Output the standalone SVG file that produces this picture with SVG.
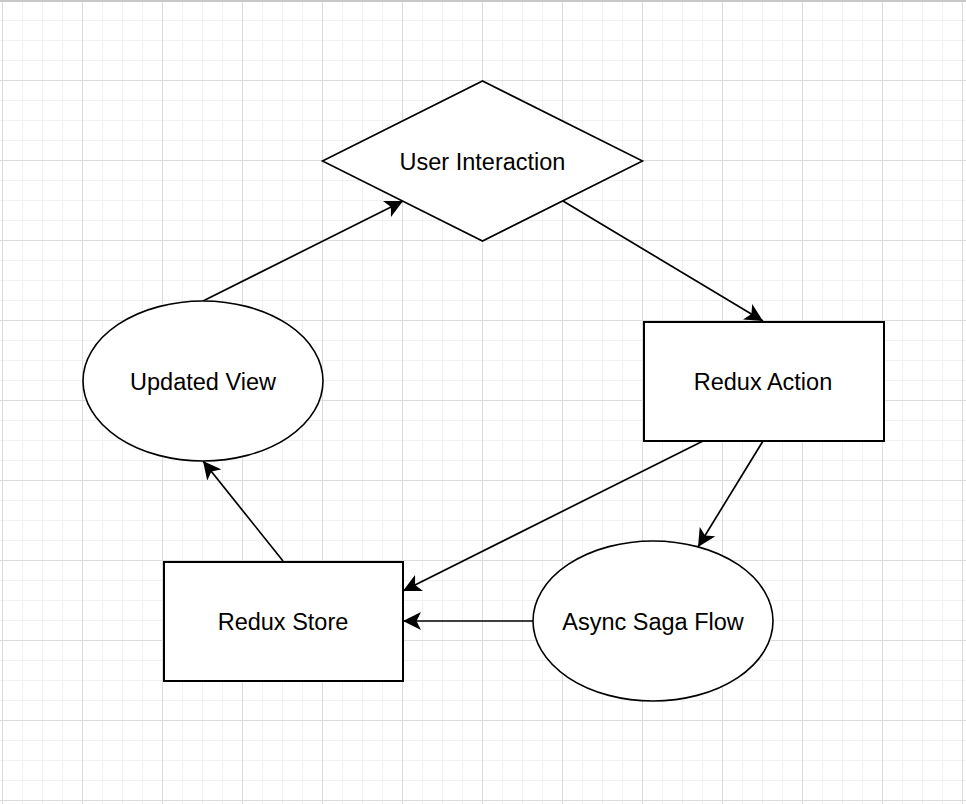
<svg xmlns="http://www.w3.org/2000/svg" width="966" height="804" viewBox="0 0 966 804">
<style>
.shape{fill:#ffffff;stroke:#000000;stroke-width:1.6}
.box{fill:#ffffff;stroke:#000000;stroke-width:2}
.label{font-family:"Liberation Sans",Arial,sans-serif;font-size:23.5px;fill:#000000;text-anchor:middle}
.edge{fill:none;stroke:#000000;stroke-width:1.7;marker-end:url(#arrow)}
</style>
<defs>
<pattern id="minor" x="2" y="0" width="20" height="20" patternUnits="userSpaceOnUse">
<path d="M0.5,0 V20 M0,0.5 H20" stroke="#f1f1f1" stroke-width="1" fill="none"/>
</pattern>
<pattern id="major" x="2" y="0" width="80" height="80" patternUnits="userSpaceOnUse">
<path d="M0.5,0 V80 M0,0.5 H80" stroke="#dcdcdc" stroke-width="1" fill="none"/>
</pattern>
<marker id="arrow" markerUnits="userSpaceOnUse" viewBox="0 0 18 18" refX="18" refY="9" markerWidth="18" markerHeight="18" orient="auto">
<path d="M18,9 L0,0 L4.5,9 L0,18 Z" fill="#000000"/>
</marker>
</defs>
<rect width="966" height="804" fill="#ffffff"/>
<rect width="966" height="804" fill="url(#minor)"/>
<rect width="966" height="804" fill="url(#major)"/>
<rect x="0" y="0" width="966" height="2" fill="#c8c8c8"/>
<g id="connectors">
<path class="edge" d="M203,301 L403,201"/>
<path class="edge" d="M563,201 L763,321"/>
<path class="edge" d="M763,441 L698,547"/>
<path class="edge" d="M703,441 L403,591"/>
<path class="edge" d="M533,621 L403,621"/>
<path class="edge" d="M283,561 L203,461"/>
</g>
<g id="user-interaction">
<polygon class="shape" points="322.5,161 482.5,81 642.5,161 482.5,241"/>
<text class="label" x="482.5" y="169.5">User Interaction</text>
</g>
<g id="redux-action">
<rect class="box" x="644" y="322" width="240" height="119"/>
<text class="label" x="763" y="390">Redux Action</text>
</g>
<g id="updated-view">
<ellipse class="shape" cx="203" cy="381" rx="120" ry="80"/>
<text class="label" x="203" y="390">Updated View</text>
</g>
<g id="redux-store">
<rect class="box" x="164" y="562" width="239" height="119"/>
<text class="label" x="283" y="630">Redux Store</text>
</g>
<g id="async-saga-flow">
<ellipse class="shape" cx="653" cy="621" rx="120" ry="80"/>
<text class="label" x="653" y="630">Async Saga Flow</text>
</g>
</svg>
